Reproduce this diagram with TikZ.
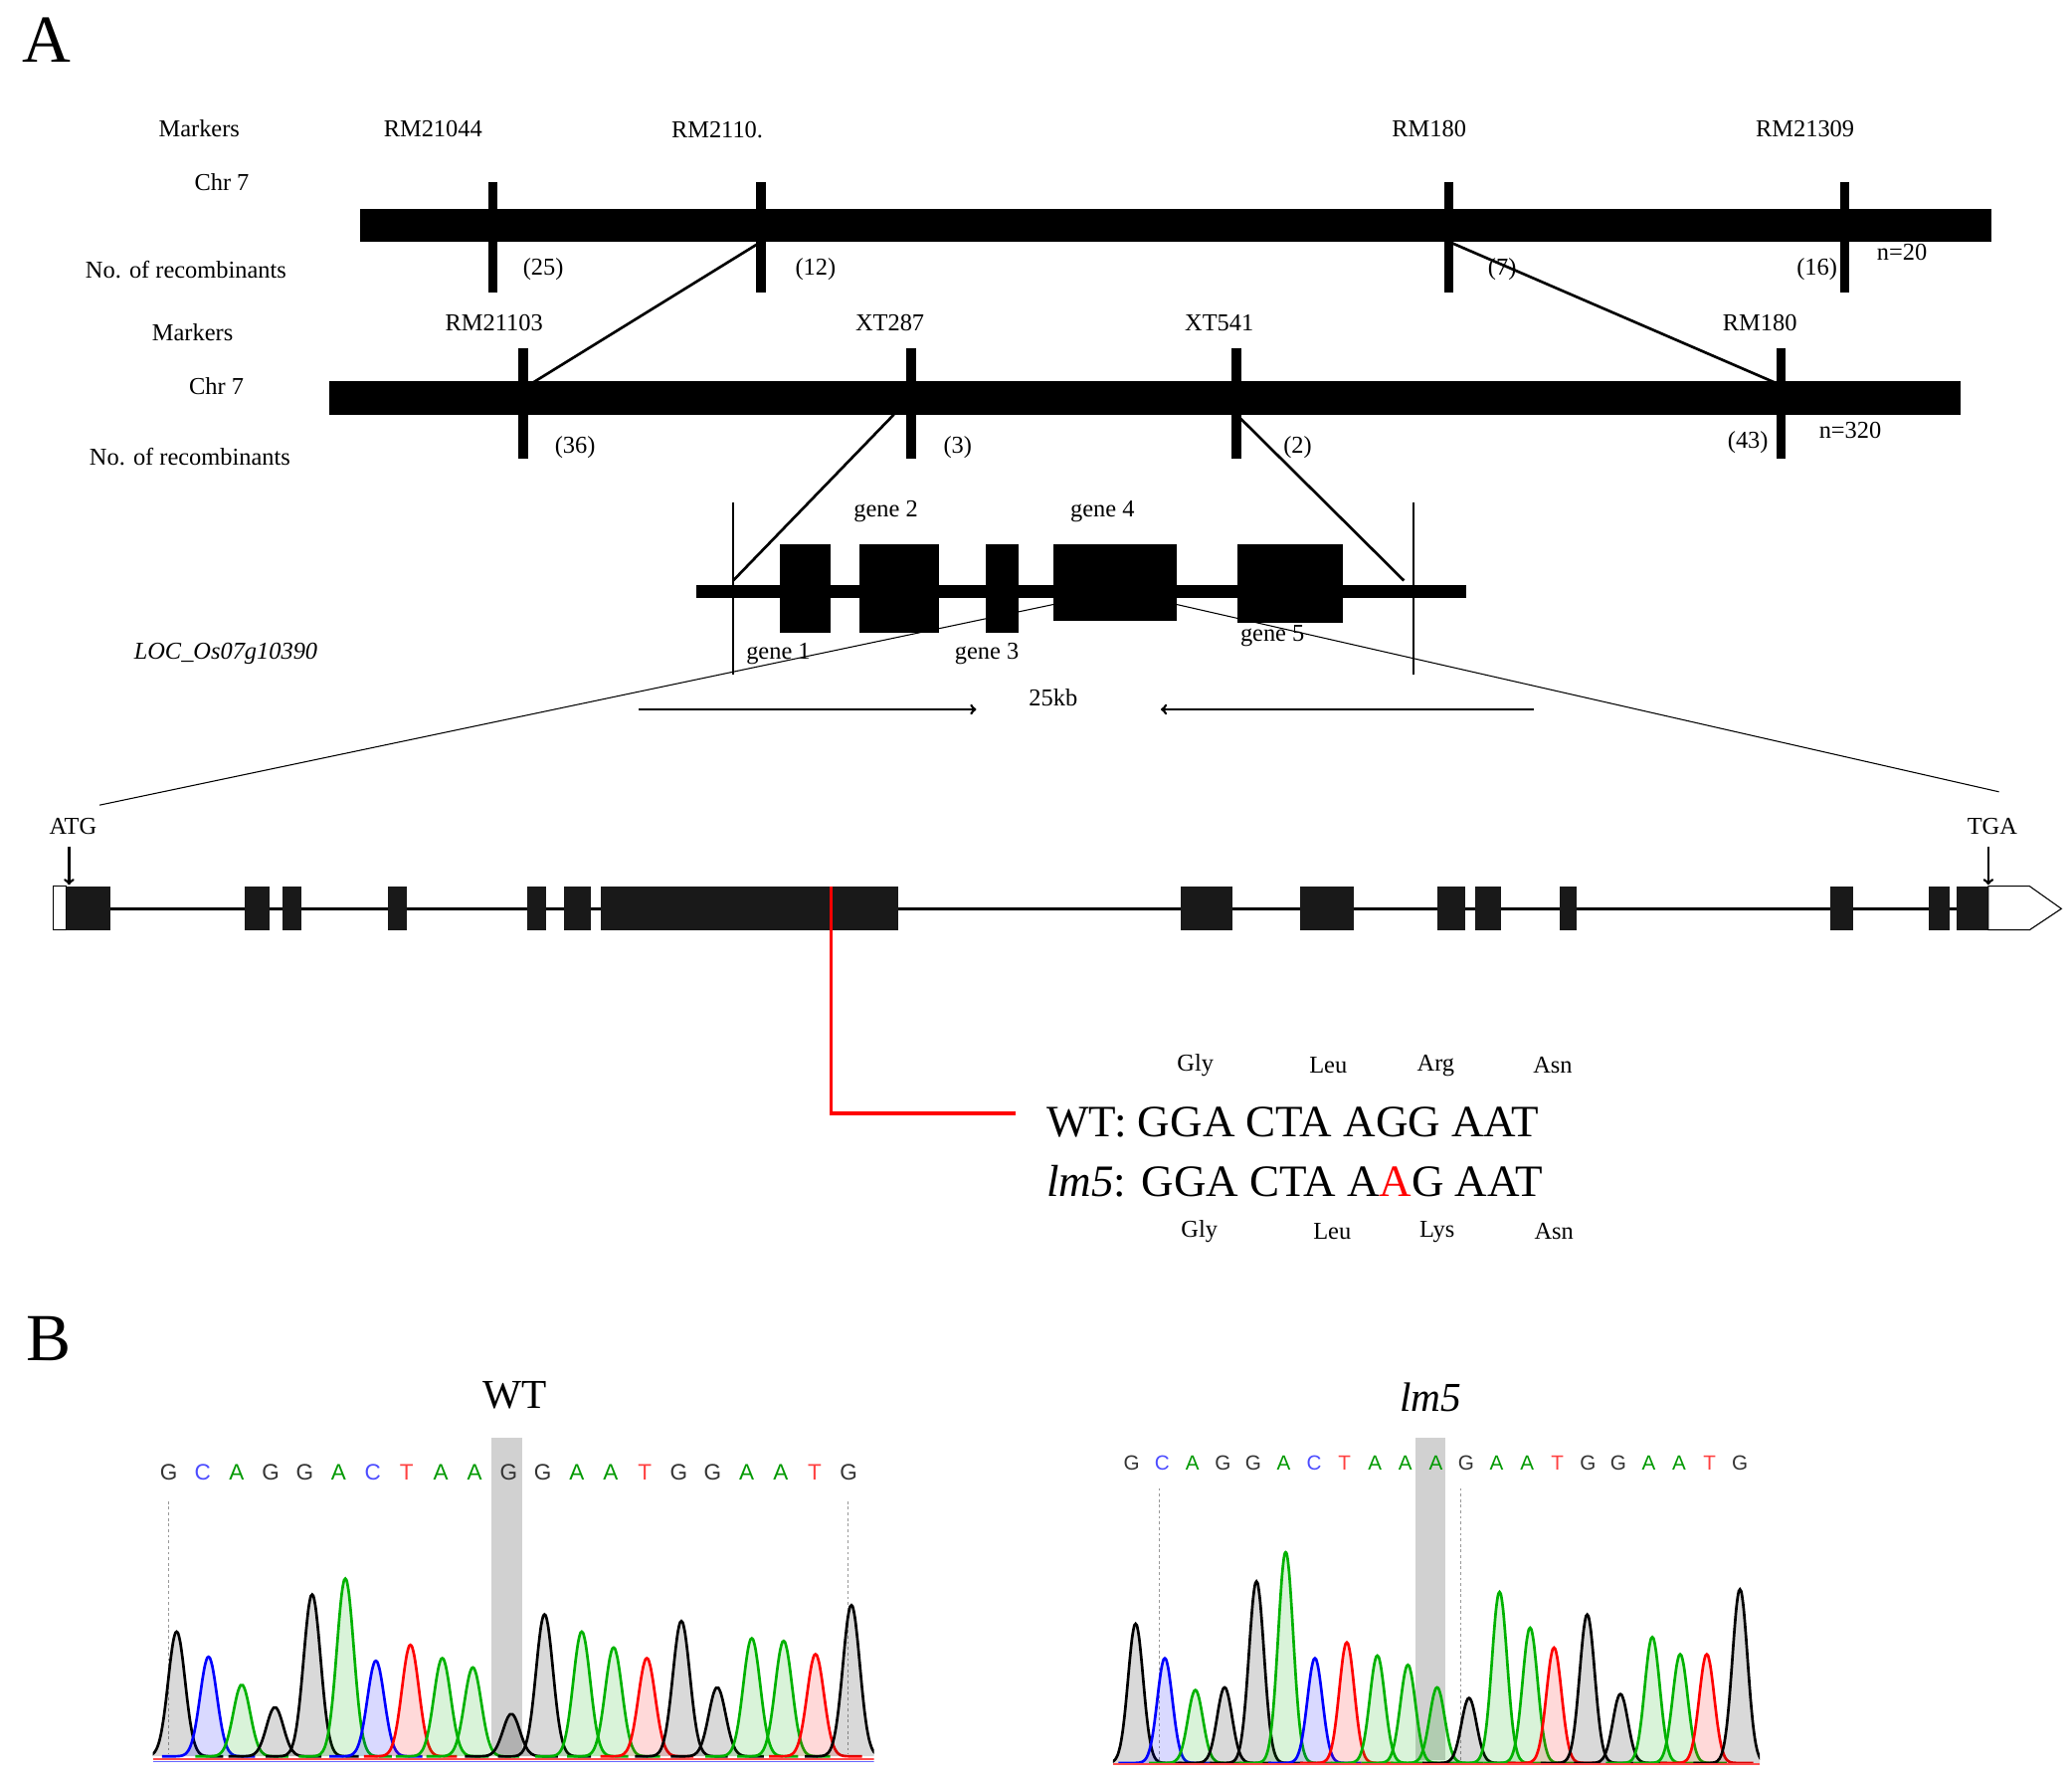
\documentclass[tikz,border=0pt]{standalone}
\usepackage{fontspec}
\setmainfont{Liberation Serif}
\newfontfamily\sansf{Liberation Sans}
\begin{document}
\begin{tikzpicture}[x=0.05cm,y=-0.05cm,
  lab/.style={font=\fontsize{26}{28}\selectfont,inner sep=0},
  seq/.style={font=\fontsize{48}{50}\selectfont,inner sep=0,anchor=west},
  big/.style={font=\fontsize{72}{74}\selectfont,inner sep=0},
  tk/.style={line width=0.4cm},
  blk/.style={fill=black,draw=none}]
\useasboundingbox[fill=white] (0,0) rectangle (1560,1340);
\node[big] (A) at (35,30) {A};
\node[big] (B) at (37,1008) {B};
% row 1
\fill (271,157) rectangle (1499,182);
\foreach \x in {371,573,1091,1389} \draw[line width=0.35cm] (\x,137)--(\x,220);
\node[lab] at (150,97) {Markers};
\node[lab] at (326,97) {RM21044};
\node[lab] at (540,98) {RM2110.};
\node[lab] at (1076,97) {RM180};
\node[lab] at (1359,97) {RM21309};
\node[lab] at (167,137) {Chr 7};
\node[lab] at (140,203) {No. of recombinants};
\node[lab] at (409,203) {(25)};
\node[lab] at (614,203) {(12)};
\node[lab] at (1131,203) {(7)};
\node[lab] at (1368,203) {(16)};
\node[lab] at (1432,190) {n=20};
% row 2
\fill (248,287) rectangle (1476,312);
\foreach \x in {394,686,931,1341} \draw[line width=0.35cm] (\x,262)--(\x,345);
\node[lab] at (145,250) {Markers};
\node[lab] at (372,243) {RM21103};
\node[lab] at (670,243) {XT287};
\node[lab] at (918,243) {XT541};
\node[lab] at (1325,243) {RM180};
\node[lab] at (163,291) {Chr 7};
\node[lab] at (143,344) {No. of recombinants};
\node[lab] at (433,337) {(36)};
\node[lab] at (721,337) {(3)};
\node[lab] at (977,337) {(2)};
\node[lab] at (1316,333) {(43)};
\node[lab] at (1393,324) {n=320};
\draw[line width=0.1cm] (573,182)--(398,290);
\draw[line width=0.1cm] (1091,182)--(1341,290);
% row 3
\fill (524,440) rectangle (1104,450);
\draw[line width=0.07cm] (552,378)--(552,508) (1064,378)--(1064,508);
\fill (587,410) rectangle (625,476);
\fill (647,410) rectangle (707,476);
\fill (742,410) rectangle (767,476);
\fill (793,410) rectangle (886,467);
\fill (932,410) rectangle (1011,469);
\draw[line width=0.1cm] (673,312)--(552,437);
\draw[line width=0.1cm] (931,312)--(1057,437);
\node[lab] at (667,385) {gene 2};
\node[lab] at (830,385) {gene 4};
\node[lab] at (586,492) {gene 1};
\node[lab] at (743,492) {gene 3};
\node[lab] at (958,479) {gene 5};
\node[lab,font=\fontsize{26}{28}\selectfont\itshape] at (170,492) {LOC\_Os07g10390};
\draw[->,line width=0.1cm] (481,534)--(735,534);
\draw[->,line width=0.1cm] (1155,534)--(874,534);
\node[lab] at (793,525) {25kb};
\draw[line width=0.04cm] (793,455)--(75,606);
\draw[line width=0.04cm] (886,455)--(1505,596);
% gene model
\draw[line width=0.1cm] (40,684)--(1500,684);
\draw[line width=0.04cm,fill=white] (40,667) rectangle (50,700);
\foreach \a/\b in {50/83,184/203,213/227,292/306,397/411,425/445,452/676,889/928,979/1019,1082/1103,1111/1130,1174/1187,1378/1395,1452/1468,1473/1497}
  \fill[black!90] (\a,667) rectangle (\b,700);
\draw[line width=0.04cm,fill=white] (1497,667)--(1528,667)--(1552,684)--(1528,700)--(1497,700)--cycle;
\node[lab] at (55,622) {ATG};
\node[lab] at (1500,622) {TGA};
\draw[->,line width=0.1cm] (52,637)--(52,666);
\draw[->,line width=0.1cm] (1497,637)--(1497,666);
\draw[red,line width=0.12cm] (626,667)--(626,838)--(765,838);
% sequences
\foreach \t/\x in {Gly/900,Leu/1000,Arg/1081,Asn/1169} \node[lab] at (\x,802) {\t};
\foreach \t/\x in {Gly/903,Leu/1003,Lys/1082,Asn/1170} \node[lab] at (\x,927) {\t};
\node[seq] (wt) at (788,845) {WT: GGA CTA AGG AAT};
\node[seq] (lm) at (788,889) {\textit{lm5}: GGA CTA A\textcolor{red}{A}G AAT};
% B titles
\node[font=\fontsize{44}{46}\selectfont,inner sep=0] at (388,1050) {WT};
\node[font=\fontsize{44}{46}\selectfont\itshape,inner sep=0] at (1077,1052) {lm5};
% highlights
\fill[black!18] (370,1082) rectangle (393,1320);
\fill[black!18] (1066,1082) rectangle (1088,1325);
\draw[black!40,dashed,line width=0.03cm] (127,1130)--(127,1320) (638,1130)--(638,1320);
\draw[black!40,dashed,line width=0.03cm] (873,1120)--(873,1325) (1100,1120)--(1100,1325);
% letters
\def\clr#1{\ifx#1G black\else\ifx#1C blue!80!black\else\ifx#1A green!60!black\else red!80!black\fi\fi\fi}
\foreach \l [count=\i from 0] in {G,C,A,G,G,A,C,T,A,A,G,G,A,A,T,G,G,A,A,T,G}{
  \pgfmathsetmacro\xx{127+\i*25.6}
  \if\l G\def\cc{black!80}\fi \if\l C\def\cc{blue!70}\fi \if\l A\def\cc{green!60!black}\fi \if\l T\def\cc{red!75}\fi
  \node[font=\sansf\fontsize{24}{26}\selectfont,text=\cc,inner sep=0] at (\xx,1108) {\l};}
\foreach \l [count=\i from 0] in {G,C,A,G,G,A,C,T,A,A,A,G,A,A,T,G,G,A,A,T,G}{
  \pgfmathsetmacro\xx{852+\i*22.9}
  \if\l G\def\cc{black!80}\fi \if\l C\def\cc{blue!70}\fi \if\l A\def\cc{green!60!black}\fi \if\l T\def\cc{red!75}\fi
  \node[font=\sansf\fontsize{22}{24}\selectfont,text=\cc,inner sep=0] at (\xx,1101) {\l};}
% peaks WT
\begin{scope}
\clip (115,1080) rectangle (658,1327);
\foreach \c/\p/\col in {133/1228/black,157/1247/blue,182/1268/green!70!black,207/1285/black,235/1200/black,260/1188/green!70!black,283/1250/blue,309/1238/red,333/1248/green!70!black,356/1255/green!70!black,385/1290/black,410/1215/black,438/1228/green!70!black,462/1240/green!70!black,487/1248/red,513/1220/black,540/1270/black,566/1233/green!70!black,590/1235/green!70!black,614/1245/red,641/1208/black}{
  \pgfmathsetmacro\hh{1322-\p}
  \draw[\col,line width=0.1cm,fill=\col,fill opacity=0.15] plot[domain=\c-35:\c+35,samples=40,smooth] (\x,{1322-\hh*exp(-((\x-\c)/9)^2)});}
\draw[red!70,line width=0.08cm] (115,1324)--(658,1324);
\draw[blue!60,line width=0.06cm] (115,1326)--(658,1326);
\end{scope}
\begin{scope}
\clip (838,1080) rectangle (1325,1330);
\foreach \c/\p/\col in {855/1222/black,877/1248/blue,900/1272/green!70!black,922/1270/black,946/1190/black,968/1168/green!70!black,990/1248/blue,1014/1236/red,1037/1246/green!70!black,1060/1253/green!70!black,1082/1270/green!70!black,1106/1278/black,1129/1198/green!70!black,1152/1225/green!70!black,1170/1240/red,1195/1215/black,1220/1275/black,1244/1232/green!70!black,1265/1245/green!70!black,1285/1245/red,1310/1196/black}{
  \pgfmathsetmacro\hh{1327-\p}
  \draw[\col,line width=0.1cm,fill=\col,fill opacity=0.15] plot[domain=\c-35:\c+35,samples=40,smooth] (\x,{1327-\hh*exp(-((\x-\c)/8)^2)});}
\draw[red!70,line width=0.08cm] (838,1328)--(1325,1328);
\end{scope}
\end{tikzpicture}
\end{document}
